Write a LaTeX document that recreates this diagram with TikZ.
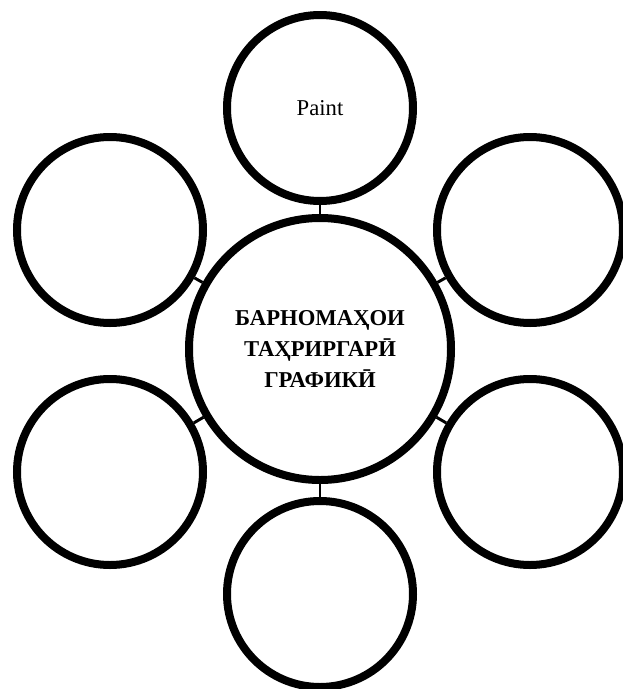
\documentclass[tikz,border=0pt]{standalone}
\usepackage{fontspec}
\setmainfont{Liberation Serif}
\usetikzlibrary{shadows}
\begin{document}
\begin{tikzpicture}[x=0.75pt,y=-0.75pt,
  bubble/.style={circle,draw=black,line width=6pt,fill=white,minimum size=139.5pt,inner sep=0pt,
    drop shadow={opacity=0.35,shadow xshift=1pt,shadow yshift=-1.2pt}},
  hub/.style={bubble,minimum size=196.5pt,align=center,font=\fontsize{17}{23.2}\selectfont\bfseries},
  link/.style={line width=2.2pt,draw=black}]
\useasboundingbox (0,0) rectangle (622,689);
\coordinate (pc) at (320,349);
\coordinate (pt) at (320,108);
\coordinate (pb) at (320,594);
\coordinate (pul) at (110,230);
\coordinate (pur) at (530,230);
\coordinate (pll) at (110,472);
\coordinate (plr) at (530,472);
\node[hub] (c) at (pc) {БАРНОМАҲОИ\\ТАҲРИРГАРӢ\\ГРАФИКӢ};
\node[bubble,font=\fontsize{17}{20}\selectfont] (t) at (pt) {Paint};
\node[bubble] (b) at (pb) {};
\node[bubble] (ul) at (pul) {};
\node[bubble] (ur) at (pur) {};
\node[bubble] (ll) at (pll) {};
\node[bubble] (lr) at (plr) {};
\draw[link] (c) -- (t);
\draw[link] (c) -- (b);
\draw[link] (c) -- (ul);
\draw[link] (c) -- (ur);
\draw[link] (c) -- (ll);
\draw[link] (c) -- (lr);
\end{tikzpicture}
\end{document}
